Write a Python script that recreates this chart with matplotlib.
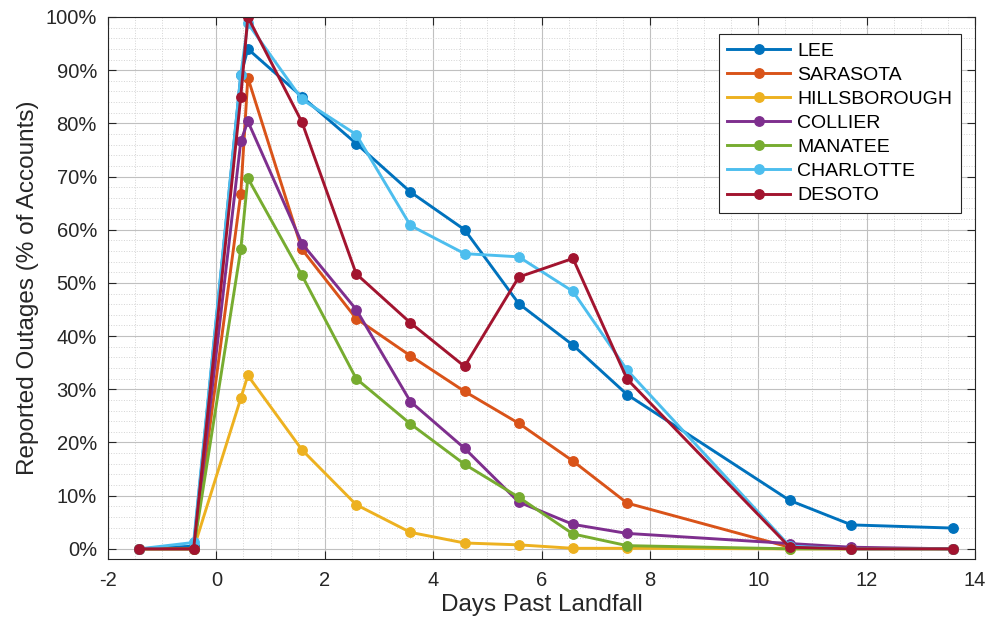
import numpy as np
import matplotlib.pyplot as plt
from matplotlib.ticker import MultipleLocator, PercentFormatter

plt.rcParams['font.family'] = ['Liberation Sans', 'DejaVu Sans']
plt.rcParams['axes.unicode_minus'] = False

# days past landfall (sample times)
days = [-1.42, -0.42, 0.45, 0.58, 1.58, 2.58, 3.58, 4.58, 5.58, 6.58, 7.58, 10.58, 11.72, 13.6]

# reported outages, % of accounts
lee          = [0, 0.5, 89.0, 94.0, 85.0, 76.2, 67.1, 60.0, 46.1, 38.3, 29.0, 9.1, 4.5, 3.9]
sarasota     = [0, 0, 66.8, 88.6, 56.3, 43.3, 36.3, 29.6, 23.6, 16.5, 8.6, 0.3, 0.1, 0]
hillsborough = [0, 0, 28.3, 32.6, 18.6, 8.3, 3.1, 1.1, 0.75, 0.1, 0.1, 0, 0, 0]
collier      = [0, 0, 76.6, 80.4, 57.4, 45.0, 27.7, 18.9, 8.8, 4.6, 2.9, 1.0, 0.3, 0]
manatee      = [0, 0, 56.3, 69.7, 51.4, 32.0, 23.5, 15.9, 9.7, 2.8, 0.6, 0, 0, 0]
charlotte    = [0, 1.2, 89.1, 98.8, 84.5, 77.9, 60.8, 55.5, 54.9, 48.4, 33.6, 0.5, 0, 0]
desoto       = [0, 0, 85.0, 100.0, 80.2, 51.7, 42.5, 34.3, 51.1, 54.6, 31.9, 0.3, 0, 0]

names = ['LEE', 'SARASOTA', 'HILLSBOROUGH', 'COLLIER', 'MANATEE', 'CHARLOTTE', 'DESOTO']
series = [lee, sarasota, hillsborough, collier, manatee, charlotte, desoto]
colors = ['#0072BD', '#D95319', '#EDB120', '#7E2F8E', '#77AC30', '#4DBEEE', '#A2142F']

fig = plt.figure(figsize=(9.9, 6.24), dpi=100)
ax = fig.add_axes([0.1091, 0.1034, 0.8758, 0.8694])

for name, vals, c in zip(names, series, colors):
    ax.plot(days, vals, '-o', color=c, lw=2.1, ms=6.8, label=name)

ax.set_xlim(-2, 14)
ax.set_ylim(-2, 100)
ax.xaxis.set_major_locator(MultipleLocator(2))
ax.xaxis.set_minor_locator(MultipleLocator(0.5))
ax.yaxis.set_major_locator(MultipleLocator(10))
ax.yaxis.set_minor_locator(MultipleLocator(2))
ax.yaxis.set_major_formatter(PercentFormatter(decimals=0))

ax.grid(True, which='major', color='#c0c0c0', lw=0.8)
ax.grid(True, which='minor', color='#d4d4d4', lw=0.7, ls=':')
ax.set_axisbelow(True)

ax.tick_params(which='major', direction='in', top=True, right=True, length=6,
               width=0.8, color='#262626', labelsize=14.5, labelcolor='#262626', pad=8)
ax.tick_params(which='minor', length=0)
for s in ax.spines.values():
    s.set_color('#262626')
    s.set_linewidth(0.8)

ax.set_xlabel('Days Past Landfall', fontsize=17.5, color='#262626', labelpad=3)
ax.set_ylabel('Reported Outages (% of Accounts)', fontsize=17.5, color='#262626', labelpad=5)

leg = ax.legend(loc='upper right', fontsize=14, fancybox=False, framealpha=1,
                edgecolor='#262626', handlelength=3.2, handletextpad=0.4,
                labelspacing=0.33, borderpad=0.45, borderaxespad=0,
                bbox_to_anchor=(0.984, 0.969))
leg.get_frame().set_linewidth(0.8)

fig.savefig('out.png', dpi=100)
